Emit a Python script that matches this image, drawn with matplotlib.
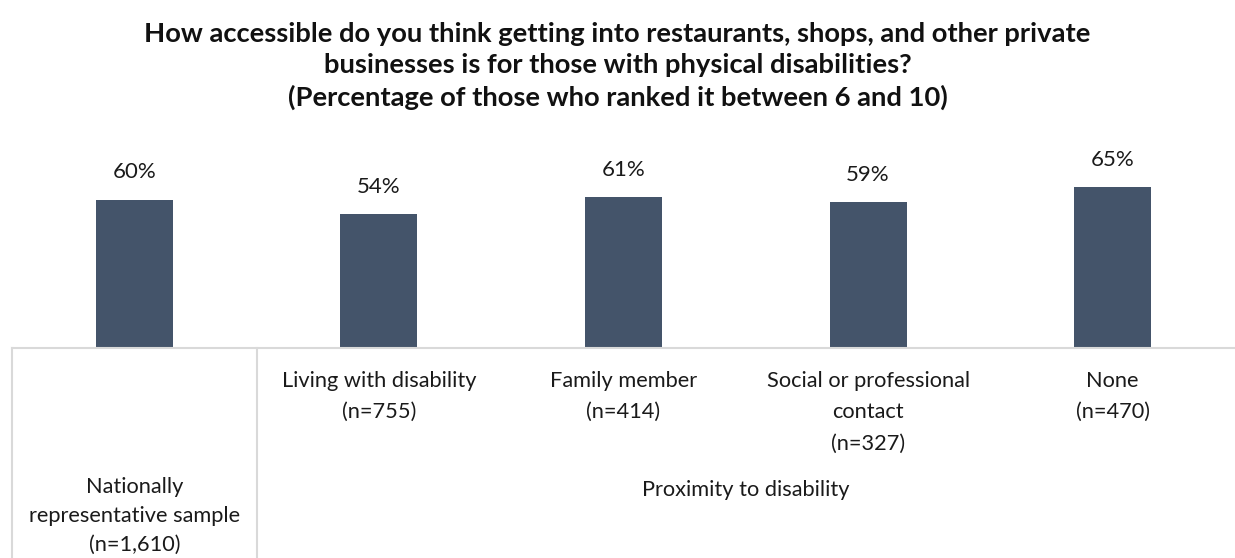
import matplotlib.pyplot as plt
import numpy as np

plt.rcParams['font.family'] = ['Lato', 'DejaVu Sans']

# survey results
groups = ['Nationally\nrepresentative sample\n(n=1,610)',
          'Living with disability\n(n=755)',
          'Family member\n(n=414)',
          'Social or professional\ncontact\n(n=327)',
          'None\n(n=470)']
pct = [60, 54, 61, 59, 65]
group_header = 'Proximity to disability'
title = ('How accessible do you think getting into restaurants, shops, and other private\n'
         'businesses is for those with physical disabilities?\n'
         '(Percentage of those who ranked it between 6 and 10)')

bar_color = '#44546A'
line_color = '#D9D9D9'
text_color = '#1a1a1a'

W, H = 1235, 558
fig = plt.figure(figsize=(W / 100, H / 100), dpi=100)
ax = fig.add_axes([12 / W, (H - 348) / H, (W - 12) / W, 198 / H])

x = np.arange(len(pct))
ax.bar(x, pct, width=0.315, color=bar_color)
ax.set_xlim(-0.5, len(pct) - 0.5)
ax.set_ylim(0, 80)

for xi, v in zip(x, pct):
    ax.annotate(f'{v}%', (xi, v), xytext=(0, 19.5), textcoords='offset points',
                ha='center', va='center', fontsize=16, color=text_color)

for s in ['top', 'right', 'left']:
    ax.spines[s].set_visible(False)
ax.spines['bottom'].set_color(line_color)
ax.spines['bottom'].set_linewidth(1.5)
ax.set_yticks([])
ax.set_xticks([])

trans = ax.get_xaxis_transform()
px = 1 / 198  # one pixel in axes fraction (vertical)

# category labels under the proximity groups
for xi, lab in zip(x[1:], groups[1:]):
    ax.text(xi, -23 * px, lab, transform=trans, ha='center', va='top',
            fontsize=15.7, linespacing=1.7, color=text_color)

# national sample label sits low, close to the bottom edge
ax.text(x[0], -168 * px, groups[0], transform=trans, ha='center', va='center',
        fontsize=15.7, linespacing=1.58, color=text_color)
ax.text((x[1] + x[-1]) / 2, -142 * px, group_header, transform=trans,
        ha='center', va='center', fontsize=15.7, color=text_color)

# group separators
for xv in [-0.5, 0.5]:
    ax.plot([xv, xv], [0, -1.1], transform=trans, color=line_color,
            lw=1.5, clip_on=False)

fig.text(0.5, 1 - 66 / H, title, ha='center', va='center', fontsize=19.7,
         fontweight='bold', linespacing=1.36, color='#111111')

fig.savefig('out.png', dpi=100)
